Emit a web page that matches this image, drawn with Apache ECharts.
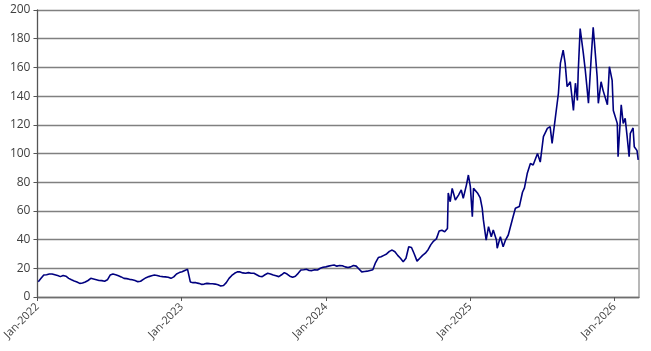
<!DOCTYPE html>
<html>
<head>
<meta charset="utf-8">
<script src="https://cdn.jsdelivr.net/npm/echarts@6/dist/echarts.min.js"></script>
<style>
  html, body { margin: 0; padding: 0; background: #fff; }
  #chart { width: 651px; height: 351px; }
</style>
</head>
<body>
<div id="chart"></div>
<script>
  // weekly closes, one value per week starting 2022-01-03 (through late Oct 2024)
  const weekStart = '2022-01-03';
  const weekly = [
    // 2022
    10.7, 13, 15.3, 15.5, 16, 16, 15.5, 15, 14.2, 15, 14.5, 13, 12, 11.2, 10.5, 9.5,
    9.8, 10.5, 11.5, 13, 12.5, 12, 11.5, 11.4, 11, 12, 15.3, 16, 15.5, 14.8, 14, 13,
    12.8, 12.3, 12, 11.5, 10.7, 11, 12.3, 13.5, 14.2, 14.8, 15.3, 15, 14.5, 14.2, 14, 13.8,
    13, 14, 16, 17,
    // 2023
    17.6, 18.5, 19.3, 10.5, 10, 10, 9.5, 8.8, 9, 9.5, 9.3, 9.2, 9, 8.5, 7.7, 8,
    10, 13, 15, 16.5, 17.5, 17.5, 16.8, 16.5, 17, 16.5, 16.5, 15.5, 14.5, 14.2, 15.5, 16.5,
    16, 15.3, 14.8, 14.2, 15.5, 17, 16, 14.5, 13.7, 14.5, 16.5, 18.8, 19, 19.3, 18.5, 18.4,
    19, 18.8, 20, 20.7, 21,
    // 2024
    21.5, 22, 22.3, 21.5, 22, 21.8, 21, 20.5, 21, 22, 21.5, 19.5, 17.5, 17.8, 18, 18.5,
    19, 24, 27.5, 28, 29, 30, 31.8, 32.7, 31.5, 29, 27, 24.6, 27, 35, 34.5, 30,
    25, 27, 29, 30.5, 33, 36.5, 39, 40.5, 46, 46.5, 45.5
  ];

  // volatile stretch, read point by point
  const lateDates = [
    '2024-11-04', '2024-11-06', '2024-11-11', '2024-11-16', '2024-11-24', '2024-12-02',
    '2024-12-09', '2024-12-14', '2024-12-22', '2024-12-27', '2025-01-01', '2025-01-06',
    '2025-01-09', '2025-01-19', '2025-01-26', '2025-01-31', '2025-02-03', '2025-02-10',
    '2025-02-16', '2025-02-23', '2025-02-28', '2025-03-08', '2025-03-10', '2025-03-18',
    '2025-03-25', '2025-03-31', '2025-04-07', '2025-04-17', '2025-04-25', '2025-05-05',
    '2025-05-13', '2025-05-18', '2025-05-25', '2025-06-02', '2025-06-09', '2025-06-20',
    '2025-06-27', '2025-07-05', '2025-07-15', '2025-07-22', '2025-07-27', '2025-08-04',
    '2025-08-12', '2025-08-17', '2025-08-24', '2025-08-29', '2025-09-03', '2025-09-11',
    '2025-09-19', '2025-09-24', '2025-09-29', '2025-10-01', '2025-10-06', '2025-10-14',
    '2025-10-19', '2025-10-24', '2025-10-27', '2025-11-03', '2025-11-08', '2025-11-11',
    '2025-11-18', '2025-11-21', '2025-11-28', '2025-12-03', '2025-12-14', '2025-12-19',
    '2025-12-26', '2025-12-29', '2026-01-08', '2026-01-10', '2026-01-18', '2026-01-23',
    '2026-01-28', '2026-02-02', '2026-02-07', '2026-02-10', '2026-02-17', '2026-02-20',
    '2026-02-27', '2026-03-02'
  ];
  const lateValues = [
    47.8, 72.5, 66.4, 75.7, 67.6, 71,
    74.6, 68.8, 78, 85, 76.9, 56,
    75.7, 72.5, 69, 62, 53.7, 39.7,
    49, 42, 46.7, 39.7, 34, 42,
    35, 39.7, 43.2, 53.7, 61.8, 63,
    73, 76, 86, 93, 92, 100,
    94, 111.7, 117.5, 118.7, 107, 124.5,
    142, 163, 172, 163, 146.6, 150,
    130, 149, 137, 156, 187, 170,
    158, 144, 135, 167, 188, 178,
    153.5, 135, 150, 144, 134, 160.5,
    151, 130, 121, 97.8, 134, 121,
    124.5, 111.7, 97.8, 114, 117.8, 104.7,
    102, 95.5
  ];

  const xStart = '2022-01-01';
  const xEnd = '2026-03-04';
  const yTicks = [0, 20, 40, 60, 80, 100, 120, 140, 160, 180, 200];

  const DAY = 24 * 3600 * 1000;
  const YEAR = 365.25 * DAY;
  const ts = (d) => new Date(d + 'T00:00:00Z').getTime();
  const points = [];
  const t0 = ts(weekStart);
  weekly.forEach((v, i) => points.push([t0 + i * 7 * DAY, v]));
  lateDates.forEach((d, i) => points.push([ts(d), lateValues[i]]));

  const chart = echarts.init(document.getElementById('chart'));
  chart.setOption({
    animation: false,
    backgroundColor: '#ffffff',
    textStyle: {fontFamily: 'Open Sans'},
    grid: {left: 37, right: 12, top: 10, bottom: 54},
    xAxis: {
      type: 'value',
      min: ts(xStart),
      max: ts(xEnd),
      interval: YEAR,
      axisLine: {lineStyle: {color: '#6e6e6e', width: 1.3}},
      axisTick: {show: true, length: 4, lineStyle: {color: '#555555'}},
      splitLine: {show: false},
      axisLabel: {
        rotate: 45,
        fontSize: 11,
        color: '#404040',
        margin: 8,
        showMaxLabel: false,
        formatter: function(val) {
          const d = new Date(val + DAY / 2);
          return 'Jan-' + d.getUTCFullYear();
        },
      },
    },
    yAxis: [
      {
        type: 'value',
        min: yTicks[0],
        max: yTicks[yTicks.length - 1],
        interval: 20,
        axisLine: {show: true, lineStyle: {color: '#555555', width: 1.3}},
        axisTick: {show: true, length: 4, lineStyle: {color: '#555555'}},
        axisLabel: {fontSize: 12, color: '#404040', margin: 7},
        splitLine: {lineStyle: {color: '#808080', width: 1.3}},
      },
      {
        type: 'value',
        position: 'right',
        min: 0,
        max: 200,
        interval: 20,
        axisLine: {show: true, lineStyle: {color: '#a0a0a0', width: 1.5}},
        axisTick: {show: false},
        axisLabel: {show: false},
        splitLine: {show: false},
      },
    ],
    series: [
      {
        type: 'line',
        data: points,
        showSymbol: false,
        symbol: 'none',
        lineStyle: {color: '#00007f', width: 1.6},
      },
    ],
  });
</script>
</body>
</html>
